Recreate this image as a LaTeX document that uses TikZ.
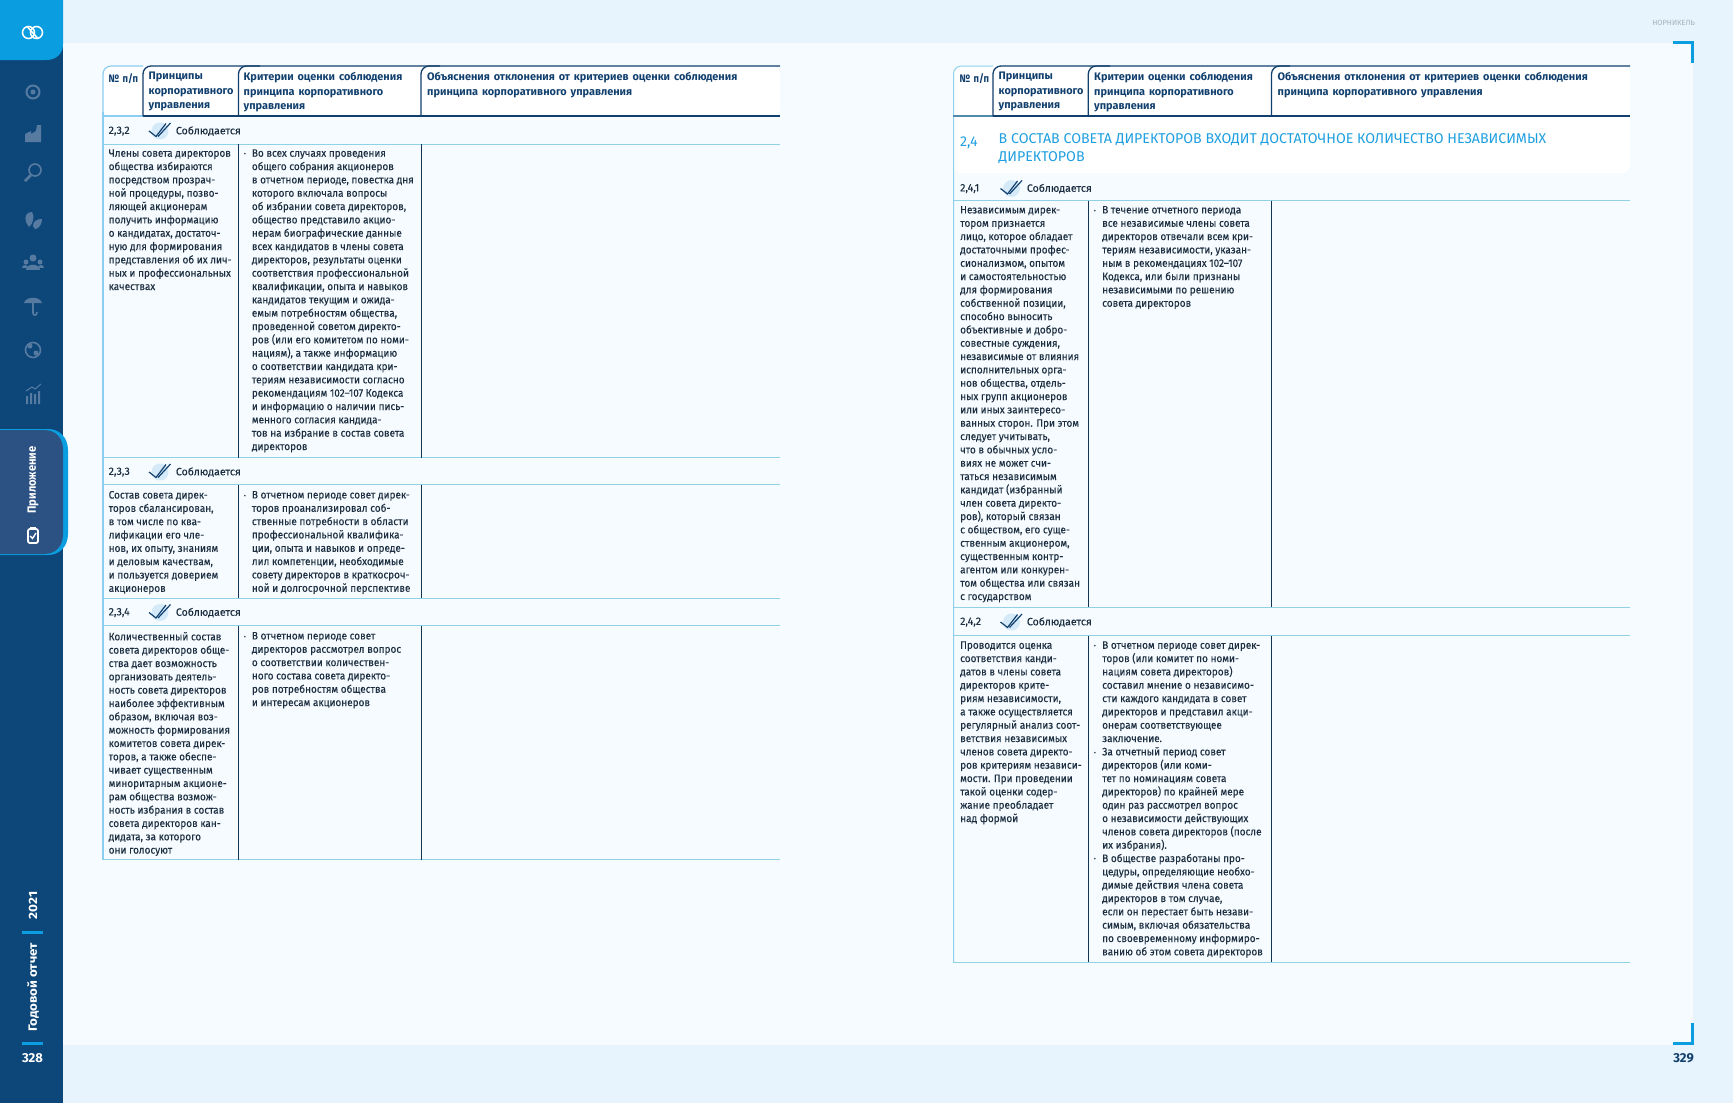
\documentclass[tikz,border=0pt]{standalone}
\usepackage{fontspec}
\setmainfont{Fira Sans}
\newfontfamily\bodyf[FakeStretch=0.925,FakeBold=0.1]{Fira Sans}
\newfontfamily\rowf[FakeBold=0.1]{Fira Sans}
\newfontfamily\headf[WordSpace=1.5]{Fira Sans}
\definecolor{outerbg}{HTML}{E8F4FD}
\definecolor{panelbg}{HTML}{F5FBFF}
\definecolor{sidebar}{HTML}{0D477A}
\definecolor{bright}{HTML}{0A9DDF}
\definecolor{tabfill}{HTML}{2C5183}
\definecolor{iconc}{HTML}{567AA0}
\definecolor{navy}{HTML}{12406E}
\definecolor{colnavy}{HTML}{0F3557}
\definecolor{inkc}{HTML}{1C2E40}
\definecolor{rowline}{HTML}{8FD2E8}
\definecolor{edgeleft}{HTML}{8CCDF2}
\definecolor{secc}{HTML}{1E9FE0}
\definecolor{grayc}{HTML}{A3AFBD}
\definecolor{halo}{HTML}{D5EAF9}
\tikzset{
  bodytext/.style={anchor=north west,yshift=-1.5pt,inner sep=0pt,align=left,text=inkc,font=\bodyf\fontsize{10.8}{13.33}\selectfont,execute at begin node=\strut},
  headtext/.style={anchor=north west,yshift=-2.6pt,inner sep=0pt,align=left,text=navy,font=\headf\fontsize{10.9}{14.5}\selectfont\bfseries,execute at begin node=\strut},
  sectext/.style={anchor=north west,yshift=-4.4pt,inner sep=0pt,align=left,text=secc,font=\fontsize{14.2}{18}\selectfont,execute at begin node=\strut},
  rowtext/.style={anchor=west,yshift=-0.6pt,inner sep=0pt,text=inkc,font=\rowf\fontsize{10.6}{13.33}\selectfont},
  bullettext/.style={anchor=center,yshift=-1pt,inner sep=0pt,text=inkc,font=\fontsize{7}{8}\selectfont},
  sidetext/.style={anchor=center,inner sep=0pt,text=white,rotate=90,font=\fontsize{12}{14}\selectfont\bfseries},
  rowrule/.style={draw=rowline,line width=1pt},
  colrule/.style={draw=colnavy,line width=1pt},
  tabrule/.style={draw=navy,line width=1.3pt},
  iconstroke/.style={draw=iconc,line width=1.6pt},
  iconfill/.style={fill=iconc},
  cornermark/.style={draw=bright,line width=3pt},
  chk/.style={draw=navy,line width=1.2pt,line join=round}
}
\newcommand{\chkmark}[2]{%
  \fill[halo] (#1+11,#2) circle (8.5pt);
  \draw[chk] (#1,#2) -- (#1+7,#2+5.5) -- (#1+17,#2-7.5);
  \draw[chk] (#1+9,#2+5.5) -- (#1+21.5,#2-8);
}
\begin{document}
\begin{tikzpicture}[x=1pt,y=-1pt]
\useasboundingbox (0,0) rectangle (1733,1103);
% page
\fill[outerbg] (0,0) rectangle (1733,1103);
\fill[panelbg] (63,43) rectangle (1693,1045);
% sidebar
\fill[sidebar] (0,0) rectangle (63,1103);
\fill[bright] (0,0) -- (63,0) -- (63,44) .. controls (63,54) and (56,60) .. (46,60) -- (0,60) -- cycle;
% logo
\draw[white,line width=1.5pt] (28.5,32.5) circle (6pt) (36.5,32.5) circle (6pt);
\draw[white,line width=1.5pt] (27.5,27) -- (37.5,38);
% menu icons
\draw[iconstroke,line width=2pt] (33,92) circle (6.5pt);
\fill[iconc] (33,92) circle (2.5pt);
\fill[iconfill] (25,142) -- (25,134) -- (31,131) -- (31,134) -- (36,131) -- (37,125) -- (41,125) -- (41,142) -- cycle;
\draw[iconstroke] (35,170) circle (6pt);
\draw[iconstroke,line width=2.6pt] (31,175) -- (25,181);
\fill[iconfill] (26,222) .. controls (24,216) and (27,212) .. (32,212) .. controls (35,216) and (33,224) .. (29,227) -- cycle;
\fill[iconfill] (33,226) .. controls (33,221) and (37,219) .. (42,219) .. controls (42,224) and (39,229) .. (35,229) -- cycle;
\fill[iconc] (33,258) circle (3.5pt) (26,262) circle (2.5pt) (40,262) circle (2.5pt);
\fill[iconfill] (26,270) .. controls (26,263) and (40,263) .. (40,270) -- cycle;
\fill[iconfill] (22,268) .. controls (22,264) and (28,264) .. (28,268) -- cycle;
\fill[iconfill] (38,268) .. controls (38,264) and (44,264) .. (44,268) -- cycle;
\fill[iconfill] (24,303) .. controls (26,296) and (40,296) .. (42,303) -- cycle;
\draw[iconstroke] (33,302) -- (33,313) .. controls (33,316) and (37,316) .. (37,312);
\draw[iconstroke] (33,350) circle (7.5pt);
\fill[iconc] (30,346) circle (2.5pt) (36,353) circle (2.5pt);
\fill[iconfill] (26,396) rectangle (28,404) (30,393) rectangle (32,404) (34,394) rectangle (36,404) (38,391) rectangle (40,404);
\draw[iconstroke,line width=1pt] (26,391) -- (32,387) -- (35,389) -- (41,384);
% section tab
\fill[bright] (0,429) -- (48,429) .. controls (60,429) and (68,438) .. (68,450) -- (68,534) .. controls (68,546) and (60,555) .. (48,555) -- (0,555) -- cycle;
\fill[tabfill] (0,430) -- (44,430) .. controls (56,430) and (63,438) .. (63,450) -- (63,534) .. controls (63,546) and (56,554) .. (44,554) -- (0,554) -- cycle;
\node[sidetext] (tabname) at (33,480) {\scalebox{.93}[1]{Приложение}};
\draw[white,line width=1.8pt,rounded corners=2pt,fill=tabfill] (28,529) rectangle (38,543);
\fill[white] (30,526.5) rectangle (36,530);
\draw[white,line width=1.4pt] (30.2,536) -- (32.5,538.5) -- (36,533);
% side footer
\node[sidetext] (year) at (33,905.5) {\scalebox{1.12}[1]{2021}};
\node[sidetext] (report) at (33,987.5) {\scalebox{1.11}[1]{Годовой отчет}};
\node[inner sep=0pt,text=white,font=\fontsize{13}{15}\selectfont\bfseries] (pleft) at (32.5,1058) {328};
\draw[draw=bright,line width=3pt] (22,932) -- (43,932);
\draw[draw=bright,line width=3pt] (22,1043) -- (43,1043);
% top right, bottom right
\node[anchor=east,inner sep=0pt,text=grayc,font=\fontsize{7.5}{8}\selectfont] (brand) at (1695,23) {НОРНИКЕЛЬ};
\draw[cornermark] (1673,42.5) -- (1692.5,42.5) -- (1692.5,63);
\draw[cornermark] (1673,1043.5) -- (1692.5,1043.5) -- (1692.5,1023);
\node[anchor=east,inner sep=0pt,text=navy,font=\fontsize{13}{15}\selectfont\bfseries] (pright) at (1694,1058) {329};

% ===== LEFT TABLE =====
\fill[white,rounded corners=8pt] (103,116) -- (103,66) -- (780,66) -- (780,116) -- cycle;
\draw[rowrule] (103,144) -- (780,144);
\draw[rowrule] (103,457.5) -- (780,457.5);
\draw[rowrule] (103,484.5) -- (780,484.5);
\draw[rowrule] (103,598) -- (780,598);
\draw[rowrule] (103,625.5) -- (780,625.5);
\draw[rowrule] (103,859.5) -- (780,859.5);
\foreach \ya/\yb in {144/457.5,484.5/598,625.5/859.5}{
  \draw[colrule] (238.5,\ya) -- (238.5,\yb);
  \draw[colrule] (421,\ya) -- (421,\yb);
}
\draw[draw=edgeleft,line width=1.2pt] (143,116) -- (103,116);
\draw[draw=edgeleft,line width=1.2pt,rounded corners=8pt] (143,66) -- (103,66) -- (103,120);
\draw[draw=edgeleft,line width=2pt] (103,112) -- (103,860);
\draw[tabrule,rounded corners=8pt] (143,116) -- (143,66) -- (780,66);
\draw[tabrule,rounded corners=8pt] (238.5,116) -- (238.5,66) -- (260,66);
\draw[tabrule,rounded corners=8pt] (421,116) -- (421,66) -- (440,66);
\draw[draw=navy,line width=2pt] (143,116) -- (780,116);

\node[headtext] (l0) at (108.5,69.5) {\scalebox{.86}[1]{№ п/п}};
\node[headtext] (l1) at (148.5,69.5) {Принципы\\корпоративного\\управления};
\node[headtext] (l2) at (243.5,69.5) {Критерии оценки соблюдения\\принципа корпоративного\\управления};
\node[headtext] (l3) at (427,69.5) {Объяснения отклонения от критериев оценки соблюдения\\принципа корпоративного управления};

\node[rowtext] (r232) at (108.5,130.5) {2,3,2};
\chkmark{149}{131}
\node[rowtext] (s232) at (175.7,130.5) {Соблюдается};
\node[bodytext] (a232) at (108.5,147.6) {Члены совета директоров\\общества избираются\\посредством прозрач-\\ной процедуры, позво-\\ляющей акционерам\\получить информацию\\о кандидатах, достаточ-\\ную для формирования\\представления об их лич-\\ных и профессиональных\\качествах};
\node[bullettext] (b232) at (245,154) {•};
\node[bodytext] (c232) at (251.7,147.6) {Во всех случаях проведения\\общего собрания акционеров\\в отчетном периоде, повестка дня\\которого включала вопросы\\об избрании совета директоров,\\общество представило акцио-\\нерам биографические данные\\всех кандидатов в члены совета\\директоров, результаты оценки\\соответствия профессиональной\\квалификации, опыта и навыков\\кандидатов текущим и ожида-\\емым потребностям общества,\\проведенной советом директо-\\ров (или его комитетом по номи-\\нациям), а также информацию\\о соответствии кандидата кри-\\териям независимости согласно\\рекомендациям 102–107 Кодекса\\и информацию о наличии пись-\\менного согласия кандида-\\тов на избрание в состав совета\\директоров};

\node[rowtext] (r233) at (108.5,471.5) {2,3,3};
\chkmark{149}{472}
\node[rowtext] (s233) at (175.7,471.5) {Соблюдается};
\node[bodytext] (a233) at (108.5,489.3) {Состав совета дирек-\\торов сбалансирован,\\в том числе по ква-\\лификации его чле-\\нов, их опыту, знаниям\\и деловым качествам,\\и пользуется доверием\\акционеров};
\node[bullettext] (b233) at (245,495.7) {•};
\node[bodytext] (c233) at (251.7,489.3) {В отчетном периоде совет дирек-\\торов проанализировал соб-\\ственные потребности в области\\профессиональной квалифика-\\ции, опыта и навыков и опреде-\\лил компетенции, необходимые\\совету директоров в краткосроч-\\ной и долгосрочной перспективе};

\node[rowtext] (r234) at (108.5,612) {2,3,4};
\chkmark{149}{612.5}
\node[rowtext] (s234) at (175.7,612) {Соблюдается};
\node[bodytext] (a234) at (108.5,630.3) {Количественный состав\\совета директоров обще-\\ства дает возможность\\организовать деятель-\\ность совета директоров\\наиболее эффективным\\образом, включая воз-\\можность формирования\\комитетов совета дирек-\\торов, а также обеспе-\\чивает существенным\\миноритарным акционе-\\рам общества возмож-\\ность избрания в состав\\совета директоров кан-\\дидата, за которого\\они голосуют};
\node[bullettext] (b234) at (245,636.7) {•};
\node[bodytext] (c234) at (251.7,630.3) {В отчетном периоде совет\\директоров рассмотрел вопрос\\о соответствии количествен-\\ного состава совета директо-\\ров потребностям общества\\и интересам акционеров};

% ===== RIGHT TABLE =====
\fill[white,rounded corners=8pt] (953,173) -- (953,66) -- (1630,66) -- (1630,173) -- cycle;
\draw[rowrule] (953,200.5) -- (1630,200.5);
\draw[rowrule] (953,607) -- (1630,607);
\draw[rowrule] (953,635.5) -- (1630,635.5);
\draw[rowrule] (953,962) -- (1630,962);
\foreach \ya/\yb in {200.5/607,635.5/962}{
  \draw[colrule] (1088.3,\ya) -- (1088.3,\yb);
  \draw[colrule] (1271.5,\ya) -- (1271.5,\yb);
}
\draw[draw=rowline,line width=1pt,rounded corners=8pt] (993,66) -- (953.5,66) -- (953.5,962);
\draw[draw=navy!50!rowline,line width=1.2pt] (953,116) -- (993,116);
\draw[tabrule,rounded corners=8pt] (993,116) -- (993,66) -- (1630,66);
\draw[tabrule,rounded corners=8pt] (1088.3,116) -- (1088.3,66) -- (1110,66);
\draw[tabrule,rounded corners=8pt] (1271.5,116) -- (1271.5,66) -- (1290,66);
\draw[draw=navy,line width=2pt] (993,116) -- (1630,116);

\node[headtext] (m0) at (959.5,69.5) {\scalebox{.86}[1]{№ п/п}};
\node[headtext] (m1) at (998.5,69.5) {Принципы\\корпоративного\\управления};
\node[headtext] (m2) at (1094,69.5) {Критерии оценки соблюдения\\принципа корпоративного\\управления};
\node[headtext] (m3) at (1277.5,69.5) {Объяснения отклонения от критериев оценки соблюдения\\принципа корпоративного управления};

\node[sectext] (secno) at (960,129) {2,4};
\node[sectext] (sectitle) at (998.5,129) {В СОСТАВ СОВЕТА ДИРЕКТОРОВ ВХОДИТ ДОСТАТОЧНОЕ КОЛИЧЕСТВО НЕЗАВИСИМЫХ\\ДИРЕКТОРОВ};

\node[rowtext] (r241) at (960,188) {2,4,1};
\chkmark{1000.5}{188.5}
\node[rowtext] (s241) at (1026.7,188) {Соблюдается};
\node[bodytext] (a241) at (960,204.3) {Независимым дирек-\\тором признается\\лицо, которое обладает\\достаточными профес-\\сионализмом, опытом\\и самостоятельностью\\для формирования\\собственной позиции,\\способно выносить\\объективные и добро-\\совестные суждения,\\независимые от влияния\\исполнительных орга-\\нов общества, отдель-\\ных групп акционеров\\или иных заинтересо-\\ванных сторон. При этом\\следует учитывать,\\что в обычных усло-\\виях не может счи-\\таться независимым\\кандидат (избранный\\член совета директо-\\ров), который связан\\с обществом, его суще-\\ственным акционером,\\существенным контр-\\агентом или конкурен-\\том общества или связан\\с государством};
\node[bullettext] (b241) at (1095,210.7) {•};
\node[bodytext] (c241) at (1102,204.3) {В течение отчетного периода\\все независимые члены совета\\директоров отвечали всем кри-\\териям независимости, указан-\\ным в рекомендациях 102–107\\Кодекса, или были признаны\\независимыми по решению\\совета директоров};

\node[rowtext] (r242) at (960,621.5) {2,4,2};
\chkmark{1000.5}{622}
\node[rowtext] (s242) at (1026.7,621.5) {Соблюдается};
\node[bodytext] (a242) at (960,639.6) {Проводится оценка\\соответствия канди-\\датов в члены совета\\директоров крите-\\риям независимости,\\а также осуществляется\\регулярный анализ соот-\\ветствия независимых\\членов совета директо-\\ров критериям независи-\\мости. При проведении\\такой оценки содер-\\жание преобладает\\над формой};
\node[bullettext] (b242a) at (1095,646) {•};
\node[bullettext] (b242b) at (1095,752.7) {•};
\node[bullettext] (b242c) at (1095,859.3) {•};
\node[bodytext] (c242) at (1102,639.6) {В отчетном периоде совет дирек-\\торов (или комитет по номи-\\нациям совета директоров)\\составил мнение о независимо-\\сти каждого кандидата в совет\\директоров и представил акци-\\онерам соответствующее\\заключение.\\За отчетный период совет\\директоров (или коми-\\тет по номинациям совета\\директоров) по крайней мере\\один раз рассмотрел вопрос\\о независимости действующих\\членов совета директоров (после\\их избрания).\\В обществе разработаны про-\\цедуры, определяющие необхо-\\димые действия члена совета\\директоров в том случае,\\если он перестает быть незави-\\симым, включая обязательства\\по своевременному информиро-\\ванию об этом совета директоров};
\end{tikzpicture}
\end{document}
